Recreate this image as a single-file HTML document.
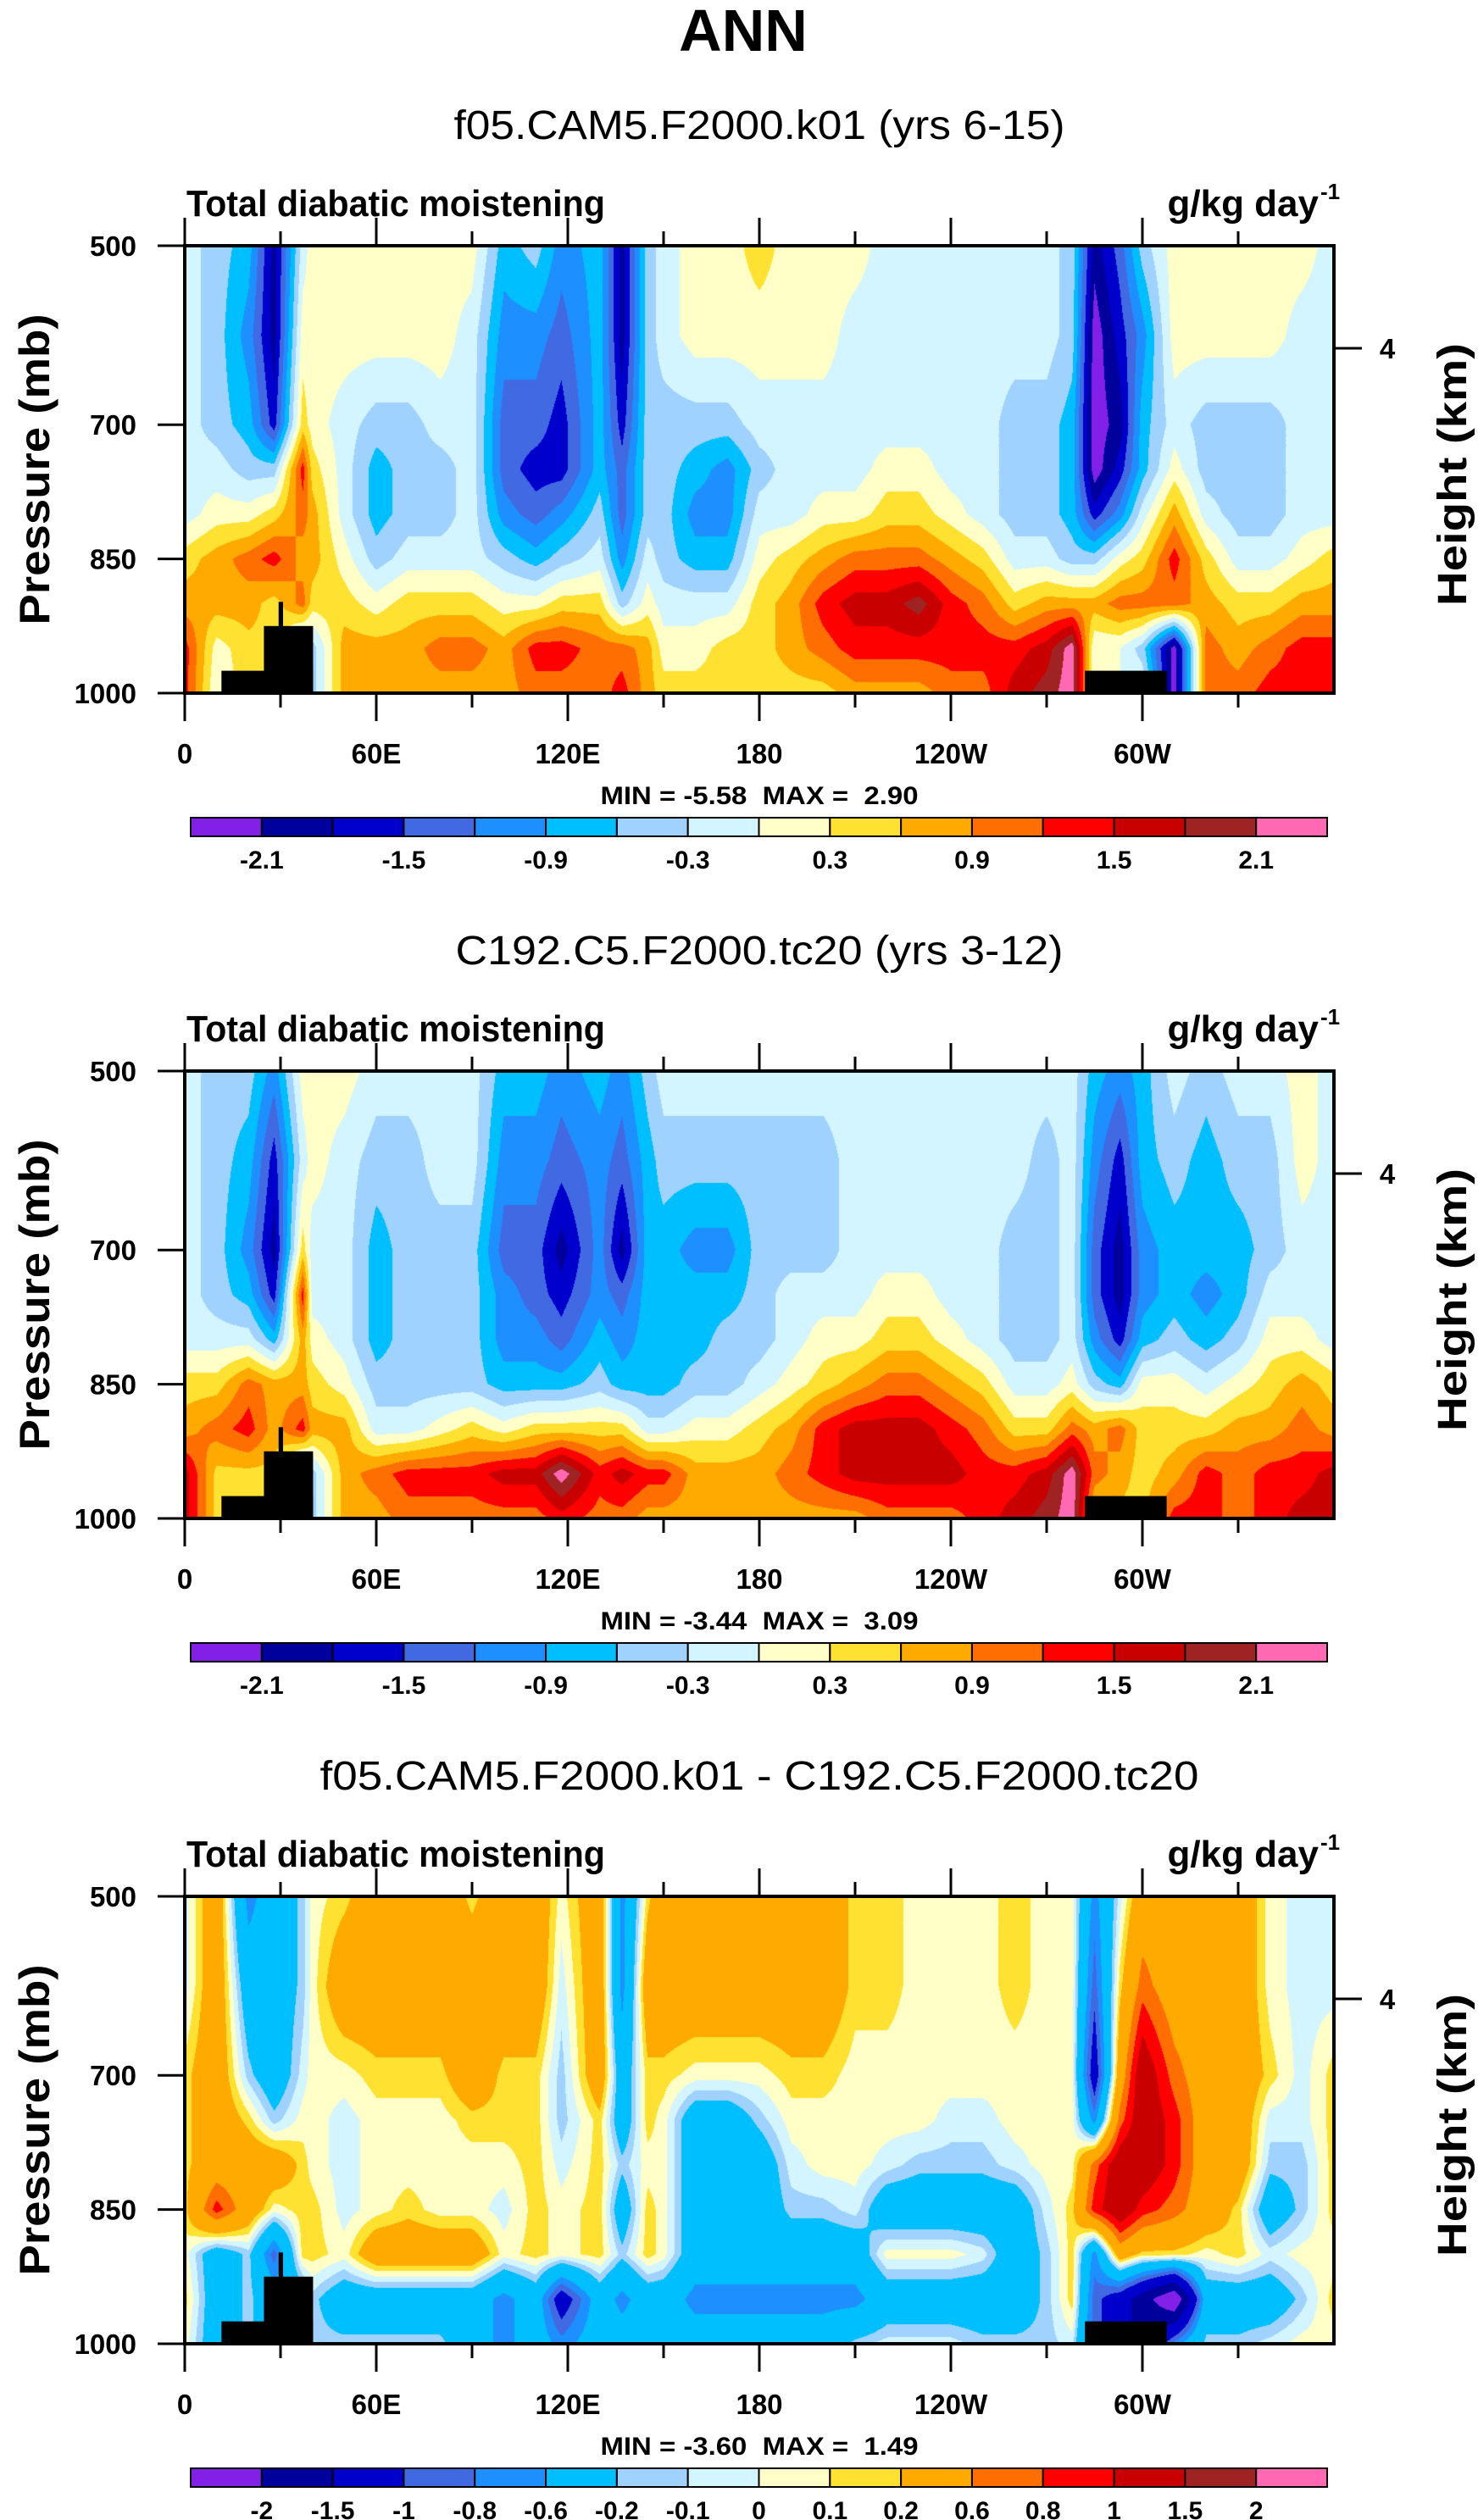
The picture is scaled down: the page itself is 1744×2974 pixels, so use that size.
<!DOCTYPE html>
<html><head><meta charset="utf-8">
<style>
html,body{margin:0;padding:0;background:#fff;}
#wrap{position:relative;width:1744px;height:2974px;overflow:hidden;background:#fff;}
canvas{position:absolute;}
svg{position:absolute;left:0;top:0;}
text{font-family:"Liberation Sans",Arial,sans-serif;fill:#000;}
</style></head>
<body>
<div id="wrap">
<canvas id="f0" width="1356" height="528" style="left:218px;top:290px"></canvas>
<canvas id="f1" width="1356" height="528" style="left:218px;top:1264px"></canvas>
<canvas id="f2" width="1356" height="528" style="left:218px;top:2238px"></canvas>
<svg id="ov" width="1744" height="2974" xmlns="http://www.w3.org/2000/svg">
<text x="877" y="60" font-size="70" font-weight="bold" text-anchor="middle">ANN</text>
</svg>
</div>
<script>
// ---- data ----
const lons = [0,10,20,28,37,40,50,60,70,80,90,100,110,118,130,137,145,150,160,170,180,190,200,210,220,230,240,250,260,270,278,285,293,300,310,320,330,340,350,360];
const levs = [500,600,700,750,800,850,900,950,1000];
const field1 = [
[-0.15,-0.15,-0.15,-0.15,-0.15,0.45,0.75,1.35,1.35],
[-0.45,-0.45,-0.45,-0.15,0.15,0.75,0.75,0.15,0],
[-0.75,-1.05,-0.75,-0.45,0.15,1.05,0.75,0.5,0.5],
[-1.95,-1.95,-1.65,-0.45,0.45,1.35,0.45,0.5,0.5],
[-0.15,0.15,0.45,1.35,1.05,0.75,1.05,-0.75,-0.75],
[0.15,0.15,0.15,0.45,0.75,0.75,0.45,-0.45,-0.45],
[0.15,0.15,-0.15,-0.15,-0.15,0.15,0.45,0.75,0.75],
[0.15,0.15,-0.45,-0.75,-0.75,-0.45,0.15,0.75,0.75],
[0.15,0.15,-0.45,-0.45,-0.45,-0.15,0.45,0.75,0.75],
[0.15,0.15,-0.15,-0.45,-0.45,-0.15,0.45,1.05,0.75],
[0.15,-0.15,-0.15,-0.15,-0.15,-0.15,0.45,1.05,0.75],
[-0.75,-1.05,-1.35,-1.35,-1.05,-0.45,0.15,0.75,0.75],
[-0.45,-1.05,-1.35,-1.65,-1.35,-0.75,0.15,1.35,1.05],
[-1.05,-1.35,-1.65,-1.65,-1.05,-0.45,0.45,1.35,1.05],
[-0.75,-0.75,-0.75,-0.75,-0.45,-0.15,0.45,1.05,1.05],
[-1.95,-1.95,-1.65,-1.35,-1.35,-1.05,-0.45,1.05,1.35],
[-0.45,-0.45,-0.45,-0.45,-0.45,-0.15,0.15,0.75,0.75],
[-0.15,-0.15,-0.45,-0.45,-0.45,-0.45,-0.15,0.15,0.45],
[0.15,0.15,-0.45,-0.75,-1.05,-0.75,-0.15,0.15,0.45],
[0.15,0.15,-0.45,-1.05,-1.05,-0.75,-0.15,0.45,0.45],
[0.45,0.15,-0.15,-0.45,-0.15,0.15,0.45,0.45,0.45],
[0.15,0.15,-0.15,-0.15,-0.15,0.45,0.75,0.75,0.45],
[0.15,0.15,-0.15,-0.15,0.15,0.75,1.35,1.05,0.45],
[0.15,-0.15,-0.15,-0.15,0.15,1.05,1.65,1.35,0.75],
[-0.15,-0.15,-0.15,0.15,0.45,1.05,1.65,1.35,0.75],
[-0.15,-0.15,-0.15,0.15,0.45,1.05,1.95,1.35,0.75],
[-0.15,-0.15,-0.15,-0.15,0.15,0.75,1.35,1.35,1.05],
[-0.15,-0.15,-0.15,-0.15,-0.15,0.45,1.05,1.35,1.05],
[-0.15,-0.15,-0.45,-0.45,-0.45,-0.15,0.45,1.35,1.65],
[-0.15,-0.15,-0.45,-0.45,-0.45,-0.15,0.75,1.65,1.95],
[-0.45,-0.45,-0.75,-0.75,-0.75,-0.45,0.75,2.3,2.3],
[-1.95,-2.3,-2.3,-2.3,-1.65,-0.45,0.75,0,0],
[-1.35,-1.65,-1.95,-1.65,-1.05,0.15,1.05,0,0],
[-0.45,-1.05,-0.75,-0.75,-0.15,0.45,1.05,-0.45,0],
[0.15,0.15,-0.15,0.15,0.75,1.35,1.05,-2.3,-2.3],
[0.15,0.15,-0.45,-0.45,-0.15,0.45,0.75,1.05,1.05],
[0.15,0.15,-0.45,-0.45,-0.45,-0.15,0.45,0.75,1.05],
[0.15,0.15,-0.45,-0.45,-0.45,-0.15,0.45,1.05,1.35],
[0.15,-0.15,-0.15,-0.15,-0.15,0.15,0.75,1.35,1.35],
[-0.15,-0.15,-0.15,-0.15,-0.15,0.45,0.75,1.35,1.35]
];
const field2 = [
[-0.15,-0.15,-0.15,-0.15,-0.15,0.45,0.75,1.65,1.65],
[-0.45,-0.45,-0.45,-0.45,-0.15,0.45,1.05,0.5,0.5],
[-0.45,-0.75,-1.05,-0.75,-0.15,1.05,1.35,0.5,0.5],
[-1.05,-1.65,-1.95,-1.65,-0.75,0.75,0.75,0.5,0.5],
[0.15,-0.15,0.45,1.35,0.75,0.75,1.35,-1.0,-0.75],
[0.15,0.15,-0.15,-0.15,0.15,0.45,0.75,-0.45,-0.45],
[0.15,-0.15,-0.15,-0.15,-0.15,0.15,0.75,0.75,0.75],
[-0.15,-0.45,-0.75,-0.75,-0.75,-0.45,-0.15,1.05,0.75],
[-0.15,-0.45,-0.45,-0.45,-0.45,-0.45,-0.15,1.35,1.05],
[-0.15,-0.15,-0.45,-0.45,-0.45,-0.45,0.15,1.35,1.05],
[-0.15,-0.15,-0.45,-0.45,-0.45,-0.45,0.45,1.35,1.05],
[-0.75,-1.05,-1.35,-1.05,-1.05,-0.75,0.15,1.65,1.05],
[-0.75,-1.05,-1.35,-1.35,-1.05,-0.75,0.45,1.65,1.05],
[-1.05,-1.35,-1.95,-1.65,-1.35,-0.75,0.45,2.3,1.35],
[-0.75,-1.05,-1.05,-1.05,-0.75,-0.45,0.45,1.35,1.05],
[-1.05,-1.35,-1.95,-1.35,-1.05,-0.75,0.45,1.65,1.05],
[-0.45,-0.75,-0.75,-0.75,-0.75,-0.75,-0.15,1.35,0.75],
[-0.15,-0.45,-0.75,-0.75,-0.75,-0.75,-0.15,1.35,0.75],
[-0.15,-0.45,-1.05,-0.75,-0.75,-0.45,0.15,0.75,0.75],
[-0.15,-0.45,-1.05,-0.75,-0.45,-0.45,0.15,0.75,0.75],
[-0.15,-0.45,-0.45,-0.45,-0.45,-0.15,0.45,0.75,0.75],
[-0.15,-0.45,-0.45,-0.15,-0.15,0.15,0.75,1.05,0.75],
[-0.15,-0.45,-0.45,-0.15,0.15,0.45,1.35,1.35,0.75],
[-0.15,-0.15,-0.15,-0.15,0.15,0.75,1.65,1.65,0.75],
[-0.15,-0.15,-0.15,0.15,0.45,1.05,1.65,1.65,1.05],
[-0.15,-0.15,-0.15,0.15,0.45,1.05,1.65,1.65,1.05],
[-0.15,-0.15,-0.15,-0.15,0.15,0.75,1.35,1.65,1.05],
[-0.15,-0.15,-0.15,-0.15,-0.15,0.45,1.05,1.35,1.35],
[-0.15,-0.15,-0.45,-0.45,-0.45,-0.15,0.45,1.35,1.65],
[-0.15,-0.45,-0.45,-0.45,-0.45,-0.15,0.45,1.65,1.95],
[-0.15,-0.15,-0.15,-0.15,-0.15,0.15,1.05,2.3,2.3],
[-0.75,-1.05,-1.35,-1.35,-1.05,-0.45,0.75,1.05,0.5],
[-1.05,-1.65,-1.95,-1.95,-1.65,-0.75,1.05,0.75,0.5],
[-0.75,-0.75,-1.05,-1.05,-0.75,0.15,0.45,0.45,0.5],
[-0.15,-0.45,-0.75,-0.75,-0.45,0.15,0.45,0.75,1.35],
[-0.45,-0.75,-0.75,-1.05,-0.75,-0.15,0.45,1.35,1.35],
[-0.15,-0.45,-0.75,-0.75,-0.45,0.15,0.75,1.05,1.05],
[-0.15,-0.45,-0.45,-0.15,0.15,0.45,0.75,1.35,1.35],
[0.15,0.15,-0.15,-0.15,0.15,0.75,1.05,1.35,1.65],
[-0.15,-0.15,-0.15,-0.15,-0.15,0.45,0.75,1.65,1.65]
];
const field3 = [
[-0.05,-0.05,0.15,0.15,0.15,0.15,0.05,0.15,0.05],
[0.4,0.4,0.4,0.4,0.4,0.9,-0.4,-0.4,-0.4],
[-0.7,-0.4,-0.15,0.15,0.4,0.4,-0.15,-0.15,-0.15],
[-0.4,-0.4,-0.4,-0.15,0.4,0.05,-0.9,-0.4,-0.4],
[-0.15,-0.15,-0.05,0.05,0.15,0.15,0.15,-0.4,-0.4],
[0.05,0.05,0.05,0.05,0.05,0.15,0.15,-0.15,-0.15],
[0.15,0.4,0.05,-0.05,-0.05,-0.05,0.05,-0.4,-0.15],
[0.4,0.4,0.15,0.05,0.05,0.05,0.4,-0.4,-0.15],
[0.4,0.4,0.15,0.05,0.05,0.15,0.4,-0.4,-0.15],
[0.4,0.4,0.15,0.05,0.05,0.05,0.4,-0.4,-0.15],
[0.15,0.4,0.4,0.15,0.05,0.05,0.4,-0.4,-0.4],
[0.4,0.4,0.15,0.15,0.05,-0.05,0.05,-0.7,-0.7],
[0.4,0.4,0.15,0.15,0.15,0.15,0.15,-0.4,-0.4],
[0.05,-0.05,-0.15,-0.15,-0.05,0.05,0.05,-1.25,-0.7],
[0.4,0.4,0.4,0.15,0.15,0.15,0.15,-0.4,-0.4],
[-0.7,-0.7,-0.4,-0.4,-0.15,-0.4,-0.15,-0.7,-0.4],
[0.15,0.4,0.15,0.15,0.05,0.15,0.15,-0.4,-0.4],
[0.4,0.4,0.15,0.05,0.05,0.05,0.05,-0.4,-0.4],
[0.4,0.4,0.05,-0.4,-0.4,-0.4,-0.4,-0.7,-0.4],
[0.4,0.4,0.05,-0.4,-0.4,-0.4,-0.4,-0.7,-0.4],
[0.4,0.4,0.05,-0.15,-0.4,-0.4,-0.4,-0.7,-0.4],
[0.4,0.4,0.15,0.05,-0.05,-0.15,-0.4,-0.7,-0.4],
[0.4,0.4,0.15,0.05,0.05,-0.15,-0.4,-0.7,-0.4],
[0.15,0.15,0.05,0.05,0.05,-0.05,-0.4,-0.7,-0.15],
[0.15,0.15,0.05,0.05,-0.05,-0.4,0.05,-0.4,-0.05],
[0.05,0.05,0.05,0.05,-0.15,-0.4,0.05,-0.4,-0.05],
[0.05,0.05,0.05,-0.05,-0.15,-0.4,0.05,-0.4,-0.05],
[0.05,0.05,0.05,-0.05,-0.15,-0.4,-0.05,-0.4,-0.15],
[0.15,0.15,0.05,0.05,-0.05,-0.4,-0.4,-0.4,-0.15],
[0.05,0.05,0.05,0.05,0.05,-0.05,-0.15,-0.15,-0.15],
[0.05,0.05,0.05,0.05,0.05,0.15,0.15,0.15,-0.05],
[-0.7,-0.9,-1.25,-0.7,0.7,0.9,-0.7,-0.9,-0.9],
[-0.05,0.15,0.4,0.7,1.25,1.25,0.4,-1.25,-1.25],
[0.4,0.7,1.25,1.25,1.25,0.9,0.15,-1.75,-1.75],
[0.4,0.4,0.7,0.9,0.9,0.7,0.15,-2.5,-0.7],
[0.4,0.4,0.4,0.4,0.4,0.4,0.05,-0.4,-0.15],
[0.4,0.4,0.4,0.4,0.4,0.15,0.15,-0.4,-0.15],
[0.05,0.05,0.15,-0.05,-0.15,-0.4,-0.05,-0.4,-0.05],
[-0.05,-0.05,-0.05,-0.05,-0.15,-0.15,0.05,-0.15,0.05],
[-0.05,-0.05,0.15,0.15,0.15,0.15,0.05,0.15,0.05]
];
const levelsAbs = [-2.1,-1.8,-1.5,-1.2,-0.9,-0.6,-0.3,0,0.3,0.6,0.9,1.2,1.5,1.8,2.1];
const levelsDiff = [-2,-1.5,-1,-0.8,-0.6,-0.2,-0.1,0,0.1,0.2,0.6,0.8,1,1.5,2];
const labelsAbs = ["-2.1","","-1.5","","-0.9","","-0.3","","0.3","","0.9","","1.5","","2.1"];
const labelsDiff = ["-2","-1.5","-1","-0.8","-0.6","-0.2","-0.1","0","0.1","0.2","0.6","0.8","1","1.5","2"];
const palette = ["#8320E8","#00009C","#0000CD","#4169E1","#1E8FFF","#00BFFF","#A0D2FF","#D2F5FF","#FFFFC8","#FFE132","#FFAA00","#FF6E00","#FF0000","#C80000","#A02323","#FF69B4"];
const xTickVals = [0,60,120,180,240,300];
const xTickLabels = ["0","60E","120E","180","120W","60W"];
const yTickVals = [500,700,850,1000];
const titles = ["f05.CAM5.F2000.k01 (yrs 6-15)","C192.C5.F2000.tc20 (yrs 3-12)","f05.CAM5.F2000.k01 - C192.C5.F2000.tc20"];
const minVals = [-5.58,-3.44,-3.60];
const maxVals = [2.90,3.09,1.49];
const landLon0 = [11.5,24.8,29.4,282];
const landLon1 = [40.2,40.2,30.8,307.6];
const landTop = [975,925,898,975];

// ---- layout ----
const PX=218, PW=1356, PH=528, PTOP=[290,1264,2238];
function xs(lon){return PX+lon/360*PW;}
function ys(p,k){return PTOP[k]+(p-500)/500*PH;}

function hex(c){return [parseInt(c.substr(1,2),16),parseInt(c.substr(3,2),16),parseInt(c.substr(5,2),16)];}
const rgb = palette.map(hex);

function interp(field,lon,p){
  let i=0; while(i<lons.length-2 && lons[i+1]<lon) i++;
  let j=0; while(j<levs.length-2 && levs[j+1]<p) j++;
  const tx=(lon-lons[i])/(lons[i+1]-lons[i]), ty=(p-levs[j])/(levs[j+1]-levs[j]);
  const a=field[i][j], b=field[i+1][j], c=field[i][j+1], d=field[i+1][j+1];
  return (a*(1-tx)+b*tx)*(1-ty)+(c*(1-tx)+d*tx)*ty;
}
function classOf(v,lv){let k=0; while(k<lv.length && v>=lv[k]) k++; return k;}

const fields=[field1,field2,field3];
const lvls=[levelsAbs,levelsAbs,levelsDiff];
for(let k=0;k<3;k++){
  const cv=document.getElementById('f'+k), ctx=cv.getContext('2d');
  const img=ctx.createImageData(PW,PH);
  for(let y=0;y<PH;y++){
    const p=500+(y+0.5)/PH*500;
    for(let x=0;x<PW;x++){
      const lon=(x+0.5)/PW*360;
      const c=rgb[classOf(interp(fields[k],lon,p),lvls[k])];
      const o=(y*PW+x)*4; img.data[o]=c[0];img.data[o+1]=c[1];img.data[o+2]=c[2];img.data[o+3]=255;
    }
  }
  ctx.putImageData(img,0,0);
}

// ---- SVG overlay ----
const NS="http://www.w3.org/2000/svg";
const svg=document.getElementById('ov');
function el(tag,attrs,txt){const e=document.createElementNS(NS,tag);for(const a in attrs)e.setAttribute(a,attrs[a]);if(txt!==undefined)e.textContent=txt;svg.appendChild(e);return e;}

for(let k=0;k<3;k++){
  const top=PTOP[k], bot=top+PH, off=top-290;
  let e;
  e=el('text',{x:896,y:164+off,'font-size':48,'text-anchor':'middle',textLength:[721,717,1037][k],lengthAdjust:'spacingAndGlyphs'},titles[k]);
  
  
  e=el('text',{x:220,y:255+off,'font-size':44,'font-weight':'bold',textLength:494,lengthAdjust:'spacingAndGlyphs'},'Total diabatic moistening');
  
  
  e=el('text',{x:1556,y:255+off,'font-size':44,'font-weight':'bold','text-anchor':'end'},'g/kg day');
  
  
  e=el('text',{x:1558,y:235+off,'font-size':26,'font-weight':'bold'},'-1');
  
  
  for(let m=0;m<landLon0.length;m++){
    e=el('rect',{x:xs(landLon0[m]),y:ys(landTop[m],k),width:xs(landLon1[m])-xs(landLon0[m]),height:bot-ys(landTop[m],k),fill:'#000'});
    
    
  }
  e=el('rect',{x:PX,y:top,width:PW,height:PH,fill:'none',stroke:'#000','stroke-width':4});
  
  
  for(let d=0;d<360;d+=30){
    const major=d%60===0, L=major?33:17, x=xs(d);
    e=el('line',{x1:x,y1:bot,x2:x,y2:bot+L,stroke:'#000','stroke-width':3});
    
    
    e=el('line',{x1:x,y1:top,x2:x,y2:top-L,stroke:'#000','stroke-width':3});
    
    
  }
  for(let t=0;t<xTickVals.length;t++){
    e=el('text',{x:xs(xTickVals[t]),y:901+off,'font-size':33,'font-weight':'bold','text-anchor':'middle'},xTickLabels[t]);
    
    
  }
  for(let t=0;t<yTickVals.length;t++){
    const y=ys(yTickVals[t],k);
    e=el('line',{x1:PX,y1:y,x2:PX-32,y2:y,stroke:'#000','stroke-width':3});
    
    
    e=el('text',{x:161,y:y+12,'font-size':33,'font-weight':'bold','text-anchor':'end'},String(yTickVals[t]));
    
    
  }
  e=el('line',{x1:PX+PW,y1:411+off,x2:PX+PW+33,y2:411+off,stroke:'#000','stroke-width':3});
  
  
  e=el('text',{x:1637,y:423+off,'font-size':33,'font-weight':'bold','text-anchor':'middle'},'4');
  
  
  e=el('text',{x:0,y:0,'font-size':50,'font-weight':'bold','text-anchor':'middle',textLength:367,lengthAdjust:'spacingAndGlyphs',transform:'translate(58,'+(554+off)+') rotate(-90)'},'Pressure (mb)');
  
  
  e=el('text',{x:0,y:0,'font-size':48,'font-weight':'bold','text-anchor':'middle',textLength:310,lengthAdjust:'spacingAndGlyphs',transform:'translate(1730,'+(560+off)+') rotate(-90)'},'Height (km)');
  
  
  e=el('text',{x:896,y:949+off,'font-size':30,'font-weight':'bold','text-anchor':'middle','xml:space':'preserve',style:'white-space:pre',textLength:375,lengthAdjust:'spacingAndGlyphs'},'MIN = '+minVals[k].toFixed(2)+'  MAX =  '+maxVals[k].toFixed(2));
  
  
  const cbx=225, cbw=1341, cby=965+off, cbh=22, bw=cbw/palette.length;
  for(let c=0;c<palette.length;c++){
    e=el('rect',{x:cbx+c*bw,y:cby,width:bw,height:cbh,fill:palette[c],stroke:'#000','stroke-width':2});
    
    
  }
  const labs=k<2?labelsAbs:labelsDiff;
  for(let c=0;c<labs.length;c++){
    if(!labs[c]) continue;
    e=el('text',{x:cbx+(c+1)*bw,y:1025+off,'font-size':30,'font-weight':'bold','text-anchor':'middle'},labs[c]);
    
    
  }
}
</script>
</body></html>
